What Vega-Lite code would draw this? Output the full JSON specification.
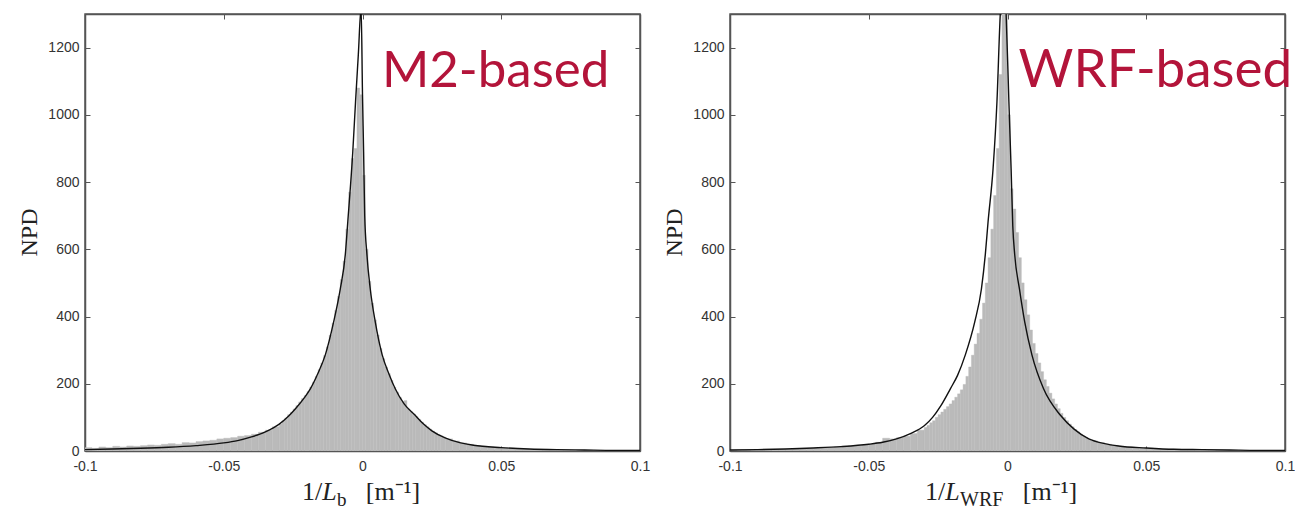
{
  "$schema": "https://vega.github.io/schema/vega-lite/v6.json",
  "background": "white",
  "padding": {"left": 16, "top": 12, "right": 0, "bottom": 0},
  "spacing": 90,
  "bounds": "flush",
  "datasets": {
    "histM2": [
      {"x0": -0.1, "x1": -0.0975, "n": 10}, {"x0": -0.0975, "x1": -0.095, "n": 8}, {"x0": -0.095, "x1": -0.0925, "n": 12}, {"x0": -0.0925, "x1": -0.09, "n": 10},
      {"x0": -0.09, "x1": -0.0875, "n": 14}, {"x0": -0.0875, "x1": -0.085, "n": 12}, {"x0": -0.085, "x1": -0.0825, "n": 15}, {"x0": -0.0825, "x1": -0.08, "n": 14},
      {"x0": -0.08, "x1": -0.0775, "n": 16}, {"x0": -0.0775, "x1": -0.075, "n": 18}, {"x0": -0.075, "x1": -0.0725, "n": 17}, {"x0": -0.0725, "x1": -0.07, "n": 20},
      {"x0": -0.07, "x1": -0.0675, "n": 22}, {"x0": -0.0675, "x1": -0.065, "n": 20}, {"x0": -0.065, "x1": -0.0625, "n": 25}, {"x0": -0.0625, "x1": -0.06, "n": 24},
      {"x0": -0.06, "x1": -0.0575, "n": 28}, {"x0": -0.0575, "x1": -0.055, "n": 30}, {"x0": -0.055, "x1": -0.0525, "n": 32}, {"x0": -0.0525, "x1": -0.05, "n": 36},
      {"x0": -0.05, "x1": -0.0475, "n": 38}, {"x0": -0.0475, "x1": -0.045, "n": 40}, {"x0": -0.045, "x1": -0.0425, "n": 44}, {"x0": -0.0425, "x1": -0.04, "n": 46},
      {"x0": -0.04, "x1": -0.0375, "n": 50}, {"x0": -0.0375, "x1": -0.035, "n": 56}, {"x0": -0.035, "x1": -0.0325, "n": 62}, {"x0": -0.0325, "x1": -0.03, "n": 72},
      {"x0": -0.030, "x1": -0.029, "n": 80}, {"x0": -0.029, "x1": -0.028, "n": 90}, {"x0": -0.028, "x1": -0.027, "n": 98}, {"x0": -0.027, "x1": -0.026, "n": 108},
      {"x0": -0.026, "x1": -0.025, "n": 116}, {"x0": -0.025, "x1": -0.024, "n": 125}, {"x0": -0.024, "x1": -0.023, "n": 135}, {"x0": -0.023, "x1": -0.022, "n": 146},
      {"x0": -0.022, "x1": -0.021, "n": 156}, {"x0": -0.021, "x1": -0.020, "n": 165}, {"x0": -0.020, "x1": -0.019, "n": 177}, {"x0": -0.019, "x1": -0.018, "n": 190},
      {"x0": -0.018, "x1": -0.017, "n": 205}, {"x0": -0.017, "x1": -0.016, "n": 222}, {"x0": -0.016, "x1": -0.015, "n": 242}, {"x0": -0.015, "x1": -0.014, "n": 262},
      {"x0": -0.014, "x1": -0.013, "n": 284}, {"x0": -0.013, "x1": -0.012, "n": 310}, {"x0": -0.012, "x1": -0.011, "n": 345}, {"x0": -0.011, "x1": -0.010, "n": 380},
      {"x0": -0.010, "x1": -0.009, "n": 418}, {"x0": -0.009, "x1": -0.008, "n": 460}, {"x0": -0.008, "x1": -0.007, "n": 510}, {"x0": -0.007, "x1": -0.006, "n": 565},
      {"x0": -0.006, "x1": -0.005, "n": 660}, {"x0": -0.005, "x1": -0.004, "n": 770}, {"x0": -0.004, "x1": -0.003, "n": 870}, {"x0": -0.003, "x1": -0.002, "n": 900},
      {"x0": -0.002, "x1": -0.001, "n": 1080}, {"x0": -0.001, "x1": 0.000, "n": 1060}, {"x0": 0.000, "x1": 0.001, "n": 820}, {"x0": 0.001, "x1": 0.002, "n": 600},
      {"x0": 0.002, "x1": 0.003, "n": 505}, {"x0": 0.003, "x1": 0.004, "n": 440}, {"x0": 0.004, "x1": 0.005, "n": 390}, {"x0": 0.005, "x1": 0.006, "n": 345},
      {"x0": 0.006, "x1": 0.007, "n": 305}, {"x0": 0.007, "x1": 0.008, "n": 275}, {"x0": 0.008, "x1": 0.009, "n": 250}, {"x0": 0.009, "x1": 0.010, "n": 230},
      {"x0": 0.010, "x1": 0.011, "n": 210}, {"x0": 0.011, "x1": 0.012, "n": 190}, {"x0": 0.012, "x1": 0.013, "n": 175}, {"x0": 0.013, "x1": 0.014, "n": 160},
      {"x0": 0.014, "x1": 0.015, "n": 147}, {"x0": 0.015, "x1": 0.016, "n": 150}, {"x0": 0.016, "x1": 0.017, "n": 125}, {"x0": 0.017, "x1": 0.018, "n": 117},
      {"x0": 0.018, "x1": 0.019, "n": 110}, {"x0": 0.019, "x1": 0.020, "n": 102}, {"x0": 0.020, "x1": 0.021, "n": 94}, {"x0": 0.021, "x1": 0.022, "n": 86},
      {"x0": 0.022, "x1": 0.023, "n": 78}, {"x0": 0.023, "x1": 0.024, "n": 72}, {"x0": 0.024, "x1": 0.025, "n": 65}, {"x0": 0.025, "x1": 0.026, "n": 59},
      {"x0": 0.026, "x1": 0.027, "n": 54}, {"x0": 0.027, "x1": 0.028, "n": 49}, {"x0": 0.028, "x1": 0.029, "n": 45}, {"x0": 0.029, "x1": 0.030, "n": 41},
      {"x0": 0.03, "x1": 0.0325, "n": 36}, {"x0": 0.0325, "x1": 0.035, "n": 30}, {"x0": 0.035, "x1": 0.0375, "n": 24}, {"x0": 0.0375, "x1": 0.04, "n": 20},
      {"x0": 0.04, "x1": 0.0425, "n": 16}, {"x0": 0.0425, "x1": 0.045, "n": 14}, {"x0": 0.045, "x1": 0.0475, "n": 12}, {"x0": 0.0475, "x1": 0.05, "n": 11},
      {"x0": 0.05, "x1": 0.0525, "n": 9}, {"x0": 0.0525, "x1": 0.055, "n": 8}, {"x0": 0.055, "x1": 0.0575, "n": 7}, {"x0": 0.0575, "x1": 0.06, "n": 6},
      {"x0": 0.06, "x1": 0.0625, "n": 5}, {"x0": 0.0625, "x1": 0.065, "n": 5}, {"x0": 0.065, "x1": 0.0675, "n": 4}, {"x0": 0.0675, "x1": 0.07, "n": 4},
      {"x0": 0.07, "x1": 0.0725, "n": 3}, {"x0": 0.0725, "x1": 0.075, "n": 3}, {"x0": 0.075, "x1": 0.0775, "n": 3}, {"x0": 0.0775, "x1": 0.08, "n": 2},
      {"x0": 0.08, "x1": 0.0825, "n": 2}, {"x0": 0.0825, "x1": 0.085, "n": 2}, {"x0": 0.085, "x1": 0.0875, "n": 2}, {"x0": 0.0875, "x1": 0.09, "n": 1},
      {"x0": 0.09, "x1": 0.0925, "n": 1}, {"x0": 0.0925, "x1": 0.095, "n": 1}, {"x0": 0.095, "x1": 0.0975, "n": 1}, {"x0": 0.0975, "x1": 0.1, "n": 1}
    ],
    "histWRF": [
      {"x0": -0.1, "x1": -0.0975, "n": 2}, {"x0": -0.0975, "x1": -0.095, "n": 3}, {"x0": -0.095, "x1": -0.0925, "n": 2}, {"x0": -0.0925, "x1": -0.09, "n": 3},
      {"x0": -0.09, "x1": -0.0875, "n": 4}, {"x0": -0.0875, "x1": -0.085, "n": 3}, {"x0": -0.085, "x1": -0.0825, "n": 4}, {"x0": -0.0825, "x1": -0.08, "n": 5},
      {"x0": -0.08, "x1": -0.0775, "n": 5}, {"x0": -0.0775, "x1": -0.075, "n": 6}, {"x0": -0.075, "x1": -0.0725, "n": 7}, {"x0": -0.0725, "x1": -0.07, "n": 7},
      {"x0": -0.07, "x1": -0.0675, "n": 8}, {"x0": -0.0675, "x1": -0.065, "n": 10}, {"x0": -0.065, "x1": -0.0625, "n": 10}, {"x0": -0.0625, "x1": -0.06, "n": 12},
      {"x0": -0.06, "x1": -0.0575, "n": 13}, {"x0": -0.0575, "x1": -0.055, "n": 15}, {"x0": -0.055, "x1": -0.0525, "n": 16}, {"x0": -0.0525, "x1": -0.05, "n": 18},
      {"x0": -0.05, "x1": -0.0475, "n": 21}, {"x0": -0.0475, "x1": -0.045, "n": 26}, {"x0": -0.045, "x1": -0.0425, "n": 38}, {"x0": -0.0425, "x1": -0.04, "n": 36},
      {"x0": -0.04, "x1": -0.0375, "n": 40}, {"x0": -0.0375, "x1": -0.035, "n": 44}, {"x0": -0.035, "x1": -0.0325, "n": 52}, {"x0": -0.0325, "x1": -0.03, "n": 62},
      {"x0": -0.030, "x1": -0.029, "n": 70}, {"x0": -0.029, "x1": -0.028, "n": 76}, {"x0": -0.028, "x1": -0.027, "n": 84}, {"x0": -0.027, "x1": -0.026, "n": 90},
      {"x0": -0.026, "x1": -0.025, "n": 100}, {"x0": -0.025, "x1": -0.024, "n": 108}, {"x0": -0.024, "x1": -0.023, "n": 116}, {"x0": -0.023, "x1": -0.022, "n": 124},
      {"x0": -0.022, "x1": -0.021, "n": 132}, {"x0": -0.021, "x1": -0.020, "n": 140}, {"x0": -0.020, "x1": -0.019, "n": 150}, {"x0": -0.019, "x1": -0.018, "n": 160},
      {"x0": -0.018, "x1": -0.017, "n": 170}, {"x0": -0.017, "x1": -0.016, "n": 182}, {"x0": -0.016, "x1": -0.015, "n": 198}, {"x0": -0.015, "x1": -0.014, "n": 222},
      {"x0": -0.014, "x1": -0.013, "n": 250}, {"x0": -0.013, "x1": -0.012, "n": 285}, {"x0": -0.012, "x1": -0.011, "n": 318}, {"x0": -0.011, "x1": -0.010, "n": 350},
      {"x0": -0.010, "x1": -0.009, "n": 392}, {"x0": -0.009, "x1": -0.008, "n": 440}, {"x0": -0.008, "x1": -0.007, "n": 500}, {"x0": -0.007, "x1": -0.006, "n": 575},
      {"x0": -0.006, "x1": -0.005, "n": 660}, {"x0": -0.005, "x1": -0.004, "n": 760}, {"x0": -0.004, "x1": -0.003, "n": 900}, {"x0": -0.003, "x1": -0.002, "n": 1120},
      {"x0": -0.002, "x1": -0.001, "n": 1350}, {"x0": -0.001, "x1": 0.000, "n": 1330}, {"x0": 0.000, "x1": 0.001, "n": 1000}, {"x0": 0.001, "x1": 0.002, "n": 780},
      {"x0": 0.002, "x1": 0.003, "n": 720}, {"x0": 0.003, "x1": 0.004, "n": 650}, {"x0": 0.004, "x1": 0.005, "n": 575}, {"x0": 0.005, "x1": 0.006, "n": 500},
      {"x0": 0.006, "x1": 0.007, "n": 450}, {"x0": 0.007, "x1": 0.008, "n": 405}, {"x0": 0.008, "x1": 0.009, "n": 360}, {"x0": 0.009, "x1": 0.010, "n": 320},
      {"x0": 0.010, "x1": 0.011, "n": 290}, {"x0": 0.011, "x1": 0.012, "n": 262}, {"x0": 0.012, "x1": 0.013, "n": 236}, {"x0": 0.013, "x1": 0.014, "n": 212},
      {"x0": 0.014, "x1": 0.015, "n": 192}, {"x0": 0.015, "x1": 0.016, "n": 172}, {"x0": 0.016, "x1": 0.017, "n": 155}, {"x0": 0.017, "x1": 0.018, "n": 140},
      {"x0": 0.018, "x1": 0.019, "n": 126}, {"x0": 0.019, "x1": 0.020, "n": 112}, {"x0": 0.020, "x1": 0.021, "n": 100}, {"x0": 0.021, "x1": 0.022, "n": 90},
      {"x0": 0.022, "x1": 0.023, "n": 80}, {"x0": 0.023, "x1": 0.024, "n": 72}, {"x0": 0.024, "x1": 0.025, "n": 64}, {"x0": 0.025, "x1": 0.026, "n": 57},
      {"x0": 0.026, "x1": 0.027, "n": 50}, {"x0": 0.027, "x1": 0.028, "n": 44}, {"x0": 0.028, "x1": 0.029, "n": 40}, {"x0": 0.029, "x1": 0.030, "n": 35},
      {"x0": 0.03, "x1": 0.0325, "n": 30}, {"x0": 0.0325, "x1": 0.035, "n": 25}, {"x0": 0.035, "x1": 0.0375, "n": 20}, {"x0": 0.0375, "x1": 0.04, "n": 17},
      {"x0": 0.04, "x1": 0.0425, "n": 14}, {"x0": 0.0425, "x1": 0.045, "n": 12}, {"x0": 0.045, "x1": 0.0475, "n": 10}, {"x0": 0.0475, "x1": 0.05, "n": 9},
      {"x0": 0.05, "x1": 0.0525, "n": 8}, {"x0": 0.0525, "x1": 0.055, "n": 7}, {"x0": 0.055, "x1": 0.0575, "n": 6}, {"x0": 0.0575, "x1": 0.06, "n": 6},
      {"x0": 0.06, "x1": 0.0625, "n": 5}, {"x0": 0.0625, "x1": 0.065, "n": 4}, {"x0": 0.065, "x1": 0.0675, "n": 4}, {"x0": 0.0675, "x1": 0.07, "n": 3},
      {"x0": 0.07, "x1": 0.0725, "n": 3}, {"x0": 0.0725, "x1": 0.075, "n": 3}, {"x0": 0.075, "x1": 0.0775, "n": 2}, {"x0": 0.0775, "x1": 0.08, "n": 2},
      {"x0": 0.08, "x1": 0.0825, "n": 2}, {"x0": 0.0825, "x1": 0.085, "n": 2}, {"x0": 0.085, "x1": 0.0875, "n": 1}, {"x0": 0.0875, "x1": 0.09, "n": 1},
      {"x0": 0.09, "x1": 0.0925, "n": 1}, {"x0": 0.0925, "x1": 0.095, "n": 1}, {"x0": 0.095, "x1": 0.0975, "n": 1}, {"x0": 0.0975, "x1": 0.1, "n": 1}
    ],
    "fitM2": [
      {"x": -0.1, "npd": 4}, {"x": -0.09, "npd": 6}, {"x": -0.08, "npd": 8}, {"x": -0.07, "npd": 11}, {"x": -0.06, "npd": 16},
      {"x": -0.05, "npd": 24}, {"x": -0.045, "npd": 31}, {"x": -0.04, "npd": 42}, {"x": -0.035, "npd": 57}, {"x": -0.03, "npd": 80},
      {"x": -0.0266, "npd": 104}, {"x": -0.024, "npd": 127}, {"x": -0.021, "npd": 158}, {"x": -0.0188, "npd": 185}, {"x": -0.016, "npd": 232},
      {"x": -0.0134, "npd": 286}, {"x": -0.0104, "npd": 384}, {"x": -0.008, "npd": 482}, {"x": -0.0062, "npd": 584}, {"x": -0.0053, "npd": 682},
      {"x": -0.0035, "npd": 890}, {"x": -0.0025, "npd": 1040}, {"x": -0.0015, "npd": 1180}, {"x": -0.0005, "npd": 1320}, {"x": 0, "npd": 1060},
      {"x": 0.0004, "npd": 890}, {"x": 0.0008, "npd": 700}, {"x": 0.0016, "npd": 584}, {"x": 0.0028, "npd": 482}, {"x": 0.0046, "npd": 384},
      {"x": 0.0071, "npd": 286}, {"x": 0.0095, "npd": 230}, {"x": 0.0118, "npd": 185}, {"x": 0.015, "npd": 140}, {"x": 0.0189, "npd": 107},
      {"x": 0.022, "npd": 80}, {"x": 0.025, "npd": 60}, {"x": 0.03, "npd": 38}, {"x": 0.035, "npd": 25}, {"x": 0.04, "npd": 17},
      {"x": 0.05, "npd": 10}, {"x": 0.06, "npd": 6}, {"x": 0.07, "npd": 4}, {"x": 0.08, "npd": 3}, {"x": 0.09, "npd": 2}, {"x": 0.1, "npd": 2}
    ],
    "fitWRF": [
      {"x": -0.1, "npd": 3}, {"x": -0.09, "npd": 4}, {"x": -0.08, "npd": 6}, {"x": -0.07, "npd": 9}, {"x": -0.06, "npd": 13},
      {"x": -0.05, "npd": 20}, {"x": -0.045, "npd": 26}, {"x": -0.04, "npd": 36}, {"x": -0.035, "npd": 52}, {"x": -0.03, "npd": 75},
      {"x": -0.027, "npd": 100}, {"x": -0.024, "npd": 135}, {"x": -0.0206, "npd": 185}, {"x": -0.018, "npd": 225}, {"x": -0.0152, "npd": 286},
      {"x": -0.0118, "npd": 384}, {"x": -0.0094, "npd": 482}, {"x": -0.008, "npd": 584}, {"x": -0.007, "npd": 682}, {"x": -0.0052, "npd": 840},
      {"x": -0.0038, "npd": 1039}, {"x": -0.0026, "npd": 1300}, {"x": -0.0015, "npd": 1420}, {"x": -0.0005, "npd": 1300}, {"x": 0.0005, "npd": 1039},
      {"x": 0.0013, "npd": 840}, {"x": 0.0019, "npd": 670}, {"x": 0.0026, "npd": 584}, {"x": 0.0043, "npd": 482}, {"x": 0.0062, "npd": 384},
      {"x": 0.0088, "npd": 286}, {"x": 0.013, "npd": 185}, {"x": 0.019, "npd": 107}, {"x": 0.024, "npd": 65}, {"x": 0.0293, "npd": 36},
      {"x": 0.035, "npd": 22}, {"x": 0.04, "npd": 15}, {"x": 0.05, "npd": 9}, {"x": 0.06, "npd": 5}, {"x": 0.07, "npd": 4},
      {"x": 0.08, "npd": 3}, {"x": 0.09, "npd": 2}, {"x": 0.1, "npd": 2}
    ],
    "names": [{"panel": "M2", "name": "M2-based"}, {"panel": "WRF", "name": "WRF-based"}]
  },
  "hconcat": [
    {
      "width": 555,
      "height": 437,
      "layer": [
        {
          "data": {"name": "histM2"},
          "mark": {"type": "rect", "color": "#bababa", "stroke": "#bababa", "strokeWidth": 0.4, "clip": true},
          "encoding": {
            "x": {"field": "x0", "type": "quantitative", "scale": {"domain": [-0.1, 0.1], "nice": false, "zero": false},
                  "axis": {"orient": "bottom", "title": null, "values": [-0.1, -0.05, 0, 0.05, 0.1], "labelExpr": "replace(format(datum.value, '~g'), '\u2212', '-')", "labelPadding": 13}},
            "x2": {"field": "x1"},
            "y": {"field": "n", "type": "quantitative", "scale": {"domain": [0, 1300], "nice": false},
                  "axis": {"orient": "left", "values": [0, 200, 400, 600, 800, 1000, 1200], "format": "d", "labelPadding": 11,
                           "title": "NPD", "titleFont": "Liberation Serif", "titleFontSize": 24, "titleFontWeight": "normal", "titleColor": "#222",
                           "titleAngle": -90, "titleX": -56, "titleY": 218, "titleAlign": "center", "titleBaseline": "middle"}},
            "y2": {"datum": 0}
          }
        },
        {
          "data": {"name": "fitM2"},
          "mark": {"type": "line", "color": "#111111", "strokeWidth": 1.4, "clip": true, "interpolate": "monotone"},
          "encoding": {
            "x": {"field": "x", "type": "quantitative", "axis": {"orient": "top", "title": null, "labels": false, "values": [-0.1, -0.05, 0, 0.05, 0.1]}},
            "y": {"field": "npd", "type": "quantitative", "axis": {"orient": "right", "title": null, "labels": false, "values": [0, 200, 400, 600, 800, 1000, 1200]}}
          }
        },
        {
          "data": {"name": "names"},
          "transform": [{"filter": "datum.panel === 'M2'"}],
          "mark": {"type": "text", "font": "Lato", "fontSize": 51, "color": "#b3143a", "align": "left", "baseline": "alphabetic"},
          "encoding": {
            "x": {"datum": 0.007, "axis": null},
            "y": {"datum": 1083, "axis": null},
            "text": {"field": "name"}
          }
        },
        {
          "data": {"values": [{}]},
          "mark": {"type": "text", "font": "Liberation Serif", "fontSize": 26, "color": "#222", "align": "left", "baseline": "alphabetic"},
          "encoding": {"x": {"datum": -0.0218, "axis": null}, "y": {"datum": -146, "axis": null}, "text": {"value": "1/"}}
        },
        {
          "data": {"values": [{}]},
          "mark": {"type": "text", "font": "Liberation Serif", "fontSize": 26, "fontStyle": "italic", "color": "#222", "align": "left", "baseline": "alphabetic"},
          "encoding": {"x": {"datum": -0.0145, "axis": null}, "y": {"datum": -146, "axis": null}, "text": {"value": "L"}}
        },
        {
          "data": {"values": [{}]},
          "mark": {"type": "text", "font": "Liberation Serif", "fontSize": 19, "color": "#222", "align": "left", "baseline": "alphabetic"},
          "encoding": {"x": {"datum": -0.0092, "axis": null}, "y": {"datum": -163, "axis": null}, "text": {"value": "b"}}
        },
        {
          "data": {"values": [{}]},
          "mark": {"type": "text", "font": "Liberation Serif", "fontSize": 26, "color": "#222", "align": "left", "baseline": "alphabetic"},
          "encoding": {"x": {"datum": 0.0012, "axis": null}, "y": {"datum": -146, "axis": null}, "text": {"value": "[m⁻¹]"}}
        }
      ]
    },
    {
      "width": 555,
      "height": 437,
      "layer": [
        {
          "data": {"name": "histWRF"},
          "mark": {"type": "rect", "color": "#bababa", "stroke": "#bababa", "strokeWidth": 0.4, "clip": true},
          "encoding": {
            "x": {"field": "x0", "type": "quantitative", "scale": {"domain": [-0.1, 0.1], "nice": false, "zero": false},
                  "axis": {"orient": "bottom", "title": null, "values": [-0.1, -0.05, 0, 0.05, 0.1], "labelExpr": "replace(format(datum.value, '~g'), '\u2212', '-')", "labelPadding": 13}},
            "x2": {"field": "x1"},
            "y": {"field": "n", "type": "quantitative", "scale": {"domain": [0, 1300], "nice": false},
                  "axis": {"orient": "left", "values": [0, 200, 400, 600, 800, 1000, 1200], "format": "d", "labelPadding": 11,
                           "title": "NPD", "titleFont": "Liberation Serif", "titleFontSize": 24, "titleFontWeight": "normal", "titleColor": "#222",
                           "titleAngle": -90, "titleX": -56, "titleY": 218, "titleAlign": "center", "titleBaseline": "middle"}},
            "y2": {"datum": 0}
          }
        },
        {
          "data": {"name": "fitWRF"},
          "mark": {"type": "line", "color": "#111111", "strokeWidth": 1.4, "clip": true, "interpolate": "monotone"},
          "encoding": {
            "x": {"field": "x", "type": "quantitative", "axis": {"orient": "top", "title": null, "labels": false, "values": [-0.1, -0.05, 0, 0.05, 0.1]}},
            "y": {"field": "npd", "type": "quantitative", "axis": {"orient": "right", "title": null, "labels": false, "values": [0, 200, 400, 600, 800, 1000, 1200]}}
          }
        },
        {
          "data": {"name": "names"},
          "transform": [{"filter": "datum.panel === 'WRF'"}],
          "mark": {"type": "text", "font": "Lato", "fontSize": 53, "color": "#b3143a", "align": "left", "baseline": "alphabetic"},
          "encoding": {
            "x": {"datum": 0.004, "axis": null},
            "y": {"datum": 1083, "axis": null},
            "text": {"field": "name"}
          }
        },
        {
          "data": {"values": [{}]},
          "mark": {"type": "text", "font": "Liberation Serif", "fontSize": 26, "color": "#222", "align": "left", "baseline": "alphabetic"},
          "encoding": {"x": {"datum": -0.0297, "axis": null}, "y": {"datum": -146, "axis": null}, "text": {"value": "1/"}}
        },
        {
          "data": {"values": [{}]},
          "mark": {"type": "text", "font": "Liberation Serif", "fontSize": 26, "fontStyle": "italic", "color": "#222", "align": "left", "baseline": "alphabetic"},
          "encoding": {"x": {"datum": -0.0224, "axis": null}, "y": {"datum": -146, "axis": null}, "text": {"value": "L"}}
        },
        {
          "data": {"values": [{}]},
          "mark": {"type": "text", "font": "Liberation Serif", "fontSize": 20, "color": "#222", "align": "left", "baseline": "alphabetic"},
          "encoding": {"x": {"datum": -0.0171, "axis": null}, "y": {"datum": -163, "axis": null}, "text": {"value": "WRF"}}
        },
        {
          "data": {"values": [{}]},
          "mark": {"type": "text", "font": "Liberation Serif", "fontSize": 26, "color": "#222", "align": "left", "baseline": "alphabetic"},
          "encoding": {"x": {"datum": 0.0055, "axis": null}, "y": {"datum": -146, "axis": null}, "text": {"value": "[m⁻¹]"}}
        }
      ]
    }
  ],
  "config": {
    "view": {"stroke": "#555555", "strokeWidth": 1.5},
    "axis": {
      "grid": false,
      "domainColor": "#555555",
      "domainWidth": 1.5,
      "tickColor": "#555555",
      "tickSize": -5,
      "tickWidth": 1,
      "labelFont": "Liberation Sans",
      "labelFontSize": 14,
      "labelColor": "#333333",
      "labelFlush": false,
      "labelOverlap": false
    }
  }
}
